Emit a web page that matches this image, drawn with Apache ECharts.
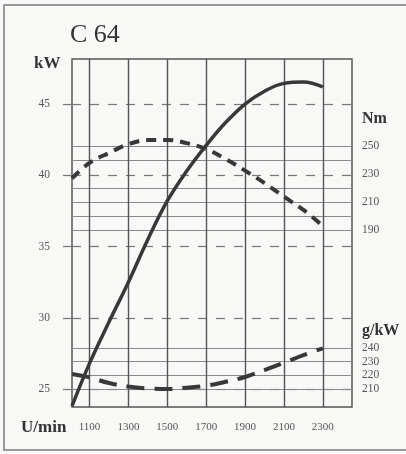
<!DOCTYPE html>
<html>
<head>
<meta charset="utf-8">
<script src="https://cdn.jsdelivr.net/npm/echarts@6/dist/echarts.min.js"></script>
<style>
html,body{margin:0;padding:0;background:#f8f8f6;overflow:hidden;}
#chart{width:406px;height:454px;}
</style>
</head>
<body>
<div id="chart"></div>
<script>
// ---- data ----
const rpm = [1010, 1100, 1200, 1300, 1400, 1500, 1600, 1700, 1800, 1900, 2000, 2100, 2200, 2300];
const powerKW = [23.8, 26.8, 29.7, 32.5, 35.5, 38.2, 40.3, 42.1, 43.7, 45.0, 45.9, 46.45, 46.55, 46.2];
const torqueNm = [226.8, 237.9, 245.0, 251.2, 254.2, 254.3, 252.0, 247.8, 240.7, 232.4, 223.5, 213.8, 204.3, 192.9];
const fuelGkW = [221.0, 218.5, 214.4, 211.8, 210.5, 210.0, 211.0, 212.4, 215.3, 218.8, 223.9, 229.2, 234.8, 239.7];

const rpmTicks = [1100, 1300, 1500, 1700, 1900, 2100, 2300];
const kwTicks = [25, 30, 35, 40, 45];
const nmLines = [190, 200, 210, 220, 240, 250];
const nmLabels = [190, 210, 230, 250];
const gLines = [210, 220, 230, 240];
const gLabels = [210, 220, 230, 240];

const serif = '"Liberation Serif", "DejaVu Serif", serif';
const pairs = (ys) => rpm.map((x, i) => [x, ys[i]]);
const plain = (v) => String(v);

const chart = echarts.init(document.getElementById('chart'));
chart.setOption({
  backgroundColor: '#f8f8f6',
  animation: false,
  grid: {left: 72, top: 59, width: 280, height: 348, show: true,
         borderColor: '#555', borderWidth: 1.5, backgroundColor: 'transparent'},
  xAxis: {
    type: 'value', min: 1010, max: 2450,
    axisLine: {show: false},
    axisTick: {show: false, customValues: rpmTicks},
    axisLabel: {customValues: rpmTicks, formatter: plain, margin: 15, fontFamily: serif, fontSize: 11, color: '#555'},
    splitLine: {show: true, lineStyle: {color: '#555', width: 1.4}}
  },
  yAxis: [
    {
      type: 'value', position: 'left', min: 23.74, max: 48.16,
      axisLine: {show: false},
      axisTick: {show: true, length: 9, customValues: kwTicks, lineStyle: {color: '#777', width: 1.2}},
      axisLabel: {customValues: kwTicks, formatter: plain, margin: 22, fontFamily: serif, fontSize: 11.5, color: '#555'},
      splitLine: {show: true, lineStyle: {color: '#777', width: 1.2, type: [9, 9]}}
    },
    {
      type: 'value', position: 'right', min: 63.6, max: 312.1,
      axisLine: {show: false},
      axisTick: {show: false, customValues: nmLines},
      axisLabel: {customValues: nmLabels, formatter: plain, margin: 10, fontFamily: serif, fontSize: 11.5, color: '#555'},
      splitLine: {show: true, lineStyle: {color: '#8a8a8a', width: 1}}
    },
    {
      type: 'value', position: 'right', min: 196.9, max: 450.9,
      axisLine: {show: false},
      axisTick: {show: false, customValues: gLines},
      axisLabel: {customValues: gLabels, formatter: plain, margin: 10, fontFamily: serif, fontSize: 11.5, color: '#555'},
      splitLine: {show: true, lineStyle: {color: '#8a8a8a', width: 1}}
    }
  ],
  series: [
    {type: 'line', name: 'kW', yAxisIndex: 0, data: pairs(powerKW), smooth: 0.4, symbol: 'none',
     lineStyle: {color: '#383838', width: 3.5}, z: 5},
    {type: 'line', name: 'Nm', yAxisIndex: 1, data: pairs(torqueNm), smooth: 0.4, symbol: 'none',
     lineStyle: {color: '#383838', width: 4, type: [10, 7]}, z: 5},
    {type: 'line', name: 'g/kW', yAxisIndex: 2, data: pairs(fuelGkW), smooth: 0.4, symbol: 'none',
     lineStyle: {color: '#383838', width: 4, type: [18, 10]}, z: 5}
  ],
  graphic: [
    {type: 'polyline', shape: {points: [[420, 5], [4, 5], [4, 450], [420, 450]]},
     style: {fill: 'none', stroke: '#999', lineWidth: 2}, silent: true},
    {type: 'text', left: 70, top: 22, style: {text: 'C 64', font: '26px ' + serif, fill: '#333'}},
    {type: 'text', left: 34, top: 55, style: {text: 'kW', font: 'bold 17px ' + serif, fill: '#333'}},
    {type: 'text', left: 362, top: 111, style: {text: 'Nm', font: 'bold 16px ' + serif, fill: '#333'}},
    {type: 'text', left: 362, top: 323, style: {text: 'g/kW', font: 'bold 16px ' + serif, fill: '#333'}},
    {type: 'text', left: 21, top: 419, style: {text: 'U/min', font: 'bold 17px ' + serif, fill: '#333'}}
  ]
});
</script>
</body>
</html>
